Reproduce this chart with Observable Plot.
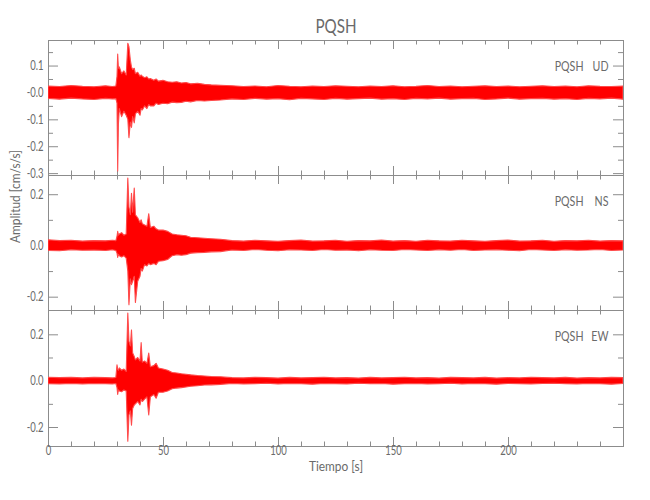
<!DOCTYPE html>
<html><head><meta charset="utf-8">
<script src="https://cdn.jsdelivr.net/npm/d3@7"></script>
<script src="https://cdn.jsdelivr.net/npm/@observablehq/plot@0.6"></script>
<style>
body{margin:0;background:#fff;}
#chart{position:relative;width:650px;height:500px;}
#chart svg{position:absolute;left:0;}
</style></head><body><div id="chart"></div>
<script>
const station = "PQSH";
const components = ["UD", "NS", "EW"];
const xTitle = "Tiempo [s]";
const yTitle = "Amplitud [cm/s/s]";

const time = [0,5,10,15,20,
  25,28,29.5,30,30.3,30.6,31,32,33,34,
  34.7,35.2,35.8,36.3,36.8,37.5,38,39,40,40.5,
  41,42,43,43.8,44.5,46,47,48,50,52,
  54,56,58,60,62,65,68,71,75,
  80,85,90,95,100,105,110,115,120,125,130,135,140,145,150,155,160,165,170,175,180,185,190,195,200,205,210,215,220,225,230,235,240,245,250];

const udHi = [0.024,0.022,0.026,0.023,0.021,
  0.025,0.022,0.024,0.06,0.143,0.09,0.095,0.07,0.08,0.065,
  0.183,0.17,0.12,0.095,0.085,0.09,0.07,0.075,0.06,0.065,
  0.06,0.055,0.058,0.05,0.052,0.045,0.05,0.042,0.045,0.04,
  0.038,0.04,0.035,0.037,0.032,0.034,0.03,0.028,0.027,
  0.025,0.022,0.024,0.021,0.026,0.023,0.021,0.024,0.022,0.025,0.023,0.021,0.024,0.022,0.025,0.021,0.023,0.026,0.022,0.024,0.021,0.023,0.025,0.022,0.024,0.021,0.023,0.025,0.022,0.024,0.021,0.025,0.023,0.022,0.024];
const udLo = [-0.022,-0.025,-0.021,-0.024,-0.026,
  -0.022,-0.024,-0.023,-0.04,-0.292,-0.12,-0.06,-0.09,-0.07,-0.085,
  -0.1,-0.168,-0.11,-0.13,-0.09,-0.113,-0.08,-0.07,-0.085,-0.06,
  -0.065,-0.05,-0.06,-0.045,-0.05,-0.05,-0.04,-0.045,-0.04,-0.042,
  -0.036,-0.038,-0.037,-0.033,-0.035,-0.03,-0.032,-0.03,-0.028,
  -0.024,-0.026,-0.022,-0.025,-0.023,-0.027,-0.022,-0.024,-0.026,-0.022,-0.025,-0.023,-0.021,-0.025,-0.023,-0.026,-0.022,-0.024,-0.021,-0.025,-0.023,-0.022,-0.026,-0.024,-0.021,-0.025,-0.023,-0.022,-0.025,-0.023,-0.026,-0.022,-0.024,-0.021,-0.025];

const nsHi = [0.022,0.019,0.02,0.017,0.019,
  0.018,0.02,0.019,0.035,0.055,0.04,0.045,0.05,0.04,0.045,
  0.263,0.15,0.12,0.204,0.13,0.224,0.12,0.108,0.09,0.1,
  0.085,0.08,0.075,0.124,0.07,0.075,0.065,0.06,0.06,0.055,
  0.045,0.042,0.04,0.038,0.032,0.03,0.028,0.026,0.024,
  0.019,0.017,0.02,0.018,0.016,0.019,0.021,0.017,0.018,0.02,0.016,0.019,0.018,0.021,0.017,0.019,0.016,0.02,0.018,0.017,0.02,0.018,0.016,0.019,0.021,0.017,0.018,0.02,0.016,0.019,0.018,0.02,0.017,0.019,0.018];
const nsLo = [-0.02,-0.021,-0.017,-0.019,-0.018,
  -0.02,-0.017,-0.02,-0.03,-0.047,-0.035,-0.04,-0.045,-0.04,-0.05,
  -0.1,-0.231,-0.13,-0.153,-0.14,-0.12,-0.223,-0.14,-0.12,-0.09,
  -0.1,-0.075,-0.08,-0.07,-0.075,-0.07,-0.075,-0.062,-0.06,-0.055,
  -0.04,-0.036,-0.038,-0.036,-0.03,-0.028,-0.027,-0.025,-0.024,
  -0.018,-0.02,-0.016,-0.019,-0.021,-0.017,-0.018,-0.02,-0.016,-0.019,-0.018,-0.021,-0.017,-0.019,-0.02,-0.016,-0.018,-0.02,-0.017,-0.019,-0.016,-0.02,-0.018,-0.017,-0.019,-0.021,-0.016,-0.018,-0.02,-0.017,-0.019,-0.018,-0.016,-0.02,-0.018];

const ewHi = [0.015,0.013,0.014,0.012,0.014,
  0.013,0.012,0.014,0.068,0.05,0.045,0.055,0.045,0.05,0.04,
  0.292,0.17,0.15,0.219,0.12,0.104,0.09,0.1,0.085,0.164,
  0.08,0.085,0.075,0.119,0.06,0.065,0.075,0.055,0.05,0.045,
  0.035,0.033,0.03,0.028,0.025,0.022,0.02,0.018,0.017,
  0.013,0.012,0.014,0.013,0.011,0.014,0.012,0.013,0.015,0.012,0.013,0.011,0.014,0.012,0.013,0.015,0.012,0.013,0.011,0.014,0.013,0.012,0.014,0.011,0.013,0.012,0.015,0.013,0.012,0.014,0.011,0.013,0.012,0.014,0.013];
const ewLo = [-0.013,-0.014,-0.012,-0.014,-0.012,
  -0.013,-0.014,-0.012,-0.03,-0.059,-0.04,-0.045,-0.048,-0.04,-0.045,
  -0.261,-0.148,-0.13,-0.192,-0.12,-0.105,-0.1,-0.09,-0.105,-0.08,
  -0.09,-0.08,-0.07,-0.148,-0.07,-0.06,-0.076,-0.05,-0.05,-0.045,
  -0.035,-0.032,-0.03,-0.027,-0.024,-0.022,-0.019,-0.018,-0.016,
  -0.012,-0.014,-0.013,-0.011,-0.014,-0.012,-0.013,-0.015,-0.012,-0.013,-0.014,-0.011,-0.013,-0.012,-0.015,-0.013,-0.012,-0.014,-0.013,-0.011,-0.014,-0.012,-0.013,-0.015,-0.012,-0.013,-0.014,-0.012,-0.011,-0.013,-0.014,-0.012,-0.013,-0.015,-0.012];

const xMajor = [0, 50, 100, 150, 200];
const xMinor = [10,20,30,40,60,70,80,90,110,120,130,140,160,170,180,190,210,220,230,240];
const xLabels = ["0", "50", "100", "150", "200"];

const udTicks = [-0.3,-0.2,-0.1,0,0.1];
const udMinor = [-0.25,-0.15,-0.05,0.05,0.15];
const udLabels = ["-0.3","-0.2","-0.1","-0.0","0.1"];
const nsTicks = [-0.2,0,0.2];
const nsMinor = [-0.1,0.1];
const nsLabels = ["-0.2","0.0","0.2"];
const ewTicks = [-0.2,0,0.2];
const ewMinor = [-0.1,0.1];
const ewLabels = ["-0.2","0.0","0.2"];

const FONT = 'Lato,"Open Sans",Roboto,sans-serif';
const TXT = "#6a6a6a";
const AX = "#8c8c8c";
const FW = 575; // frame width in px

const panels = [
  {comp: components[0], hi: udHi, lo: udLo, domain: [-0.307, 0.195], ticks: udTicks, minor: udMinor, labels: udLabels, top: 0, height: 175, mt: 40, mb: 0},
  {comp: components[1], hi: nsHi, lo: nsLo, domain: [-0.252, 0.275], ticks: nsTicks, minor: nsMinor, labels: nsLabels, top: 175, height: 135, mt: 0, mb: 0},
  {comp: components[2], hi: ewHi, lo: ewLo, domain: [-0.282, 0.305], ticks: ewTicks, minor: ewMinor, labels: ewLabels, top: 310, height: 190, mt: 0, mb: 54}
];

const chart = document.getElementById("chart");
panels.forEach((p, k) => {
  const data = time.map((t, i) => ({t, hi: p.hi[i], lo: p.lo[i]}));
  const PH = p.height - p.mt - p.mb;
  const marks = [
    Plot.frame({stroke: AX}),
    Plot.tickY(p.ticks, {y: d => d, stroke: AX, insetRight: FW - 10}),
    Plot.tickY(p.minor, {y: d => d, stroke: AX, insetRight: FW - 5}),
    Plot.tickY(p.ticks, {y: d => d, stroke: AX, insetLeft: FW - 10}),
    Plot.tickY(p.minor, {y: d => d, stroke: AX, insetLeft: FW - 5}),
    Plot.tickX(xMajor, {x: d => d, stroke: AX, insetBottom: PH - 9}),
    Plot.tickX(xMinor, {x: d => d, stroke: AX, insetBottom: PH - 4.5}),
    Plot.tickX(xMajor, {x: d => d, stroke: AX, insetTop: PH - 9}),
    Plot.tickX(xMinor, {x: d => d, stroke: AX, insetTop: PH - 4.5}),
    Plot.text(p.ticks, {y: d => d, text: (d, i) => p.labels[i], frameAnchor: "left", dx: -5, textAnchor: "end", fill: TXT, fontSize: 12.5}),
    Plot.areaY(data, {x: "t", y1: "lo", y2: "hi", fill: "#ff0000", stroke: "#ff4a4a", strokeWidth: 1.1, clip: true}),
    Plot.text([station], {frameAnchor: "top-right", dx: -40, dy: 21, textAnchor: "end", fill: TXT, fontSize: 14}),
    Plot.text([p.comp], {frameAnchor: "top-right", dx: -15, dy: 21, textAnchor: "end", fill: TXT, fontSize: 14})
  ];
  if (k === 0) {
    marks.push(Plot.text([station], {frameAnchor: "top", dy: -22, fill: TXT, fontSize: 20}));
  }
  if (k === 1) {
    marks.push(Plot.text([yTitle], {frameAnchor: "left", dx: -33, rotate: -90, fill: TXT, fontSize: 14}));
  }
  if (k === 2) {
    marks.push(Plot.text(xMajor, {x: d => d, text: (d, i) => xLabels[i], frameAnchor: "bottom", dy: 8, fill: TXT, fontSize: 12.5}));
    marks.push(Plot.text([xTitle], {frameAnchor: "bottom", dy: 24, fill: TXT, fontSize: 14}));
  }
  const svg = Plot.plot({
    width: 650, height: p.height,
    marginLeft: 48, marginRight: 27, marginTop: p.mt, marginBottom: p.mb,
    x: {domain: [0, 250], axis: null},
    y: {domain: p.domain, axis: null},
    style: {fontFamily: FONT, background: "transparent", overflow: "visible"},
    marks
  });
  svg.style.top = p.top + "px";
  chart.appendChild(svg);
  // narrow the lettering, like the plotter font of the original
  svg.querySelectorAll("text").forEach(t => {
    const L = t.getComputedTextLength();
    const f = (t.textContent === xTitle || t.textContent === yTitle) ? 0.85 : 0.76;
    if (L > 0) {
      t.setAttribute("textLength", (L * f).toFixed(2));
      t.setAttribute("lengthAdjust", "spacingAndGlyphs");
    }
  });
});
</script></body></html>
